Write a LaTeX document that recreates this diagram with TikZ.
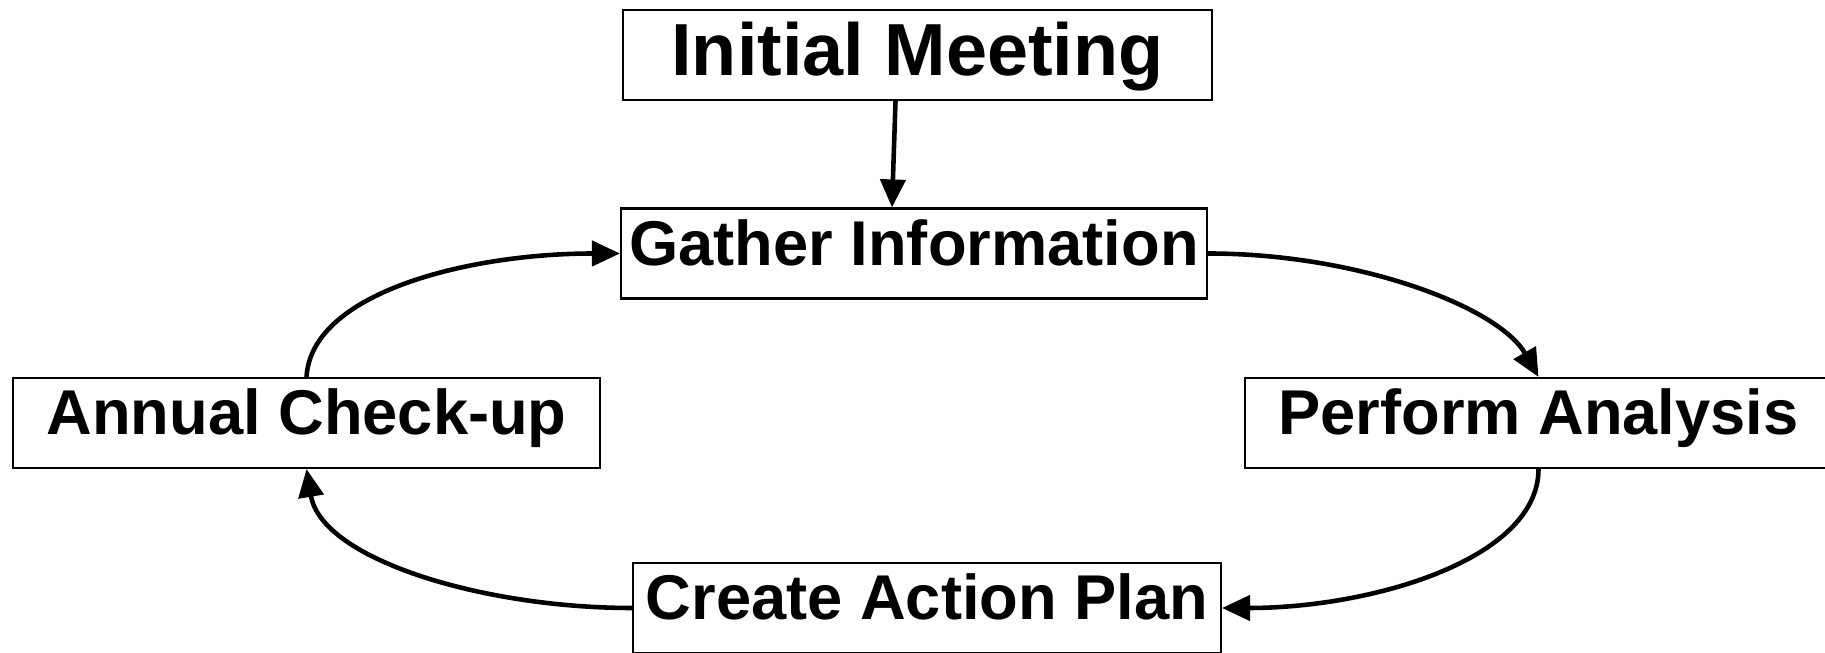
\documentclass[tikz,border=0pt]{standalone}
\usepackage{fontspec}
\setmainfont{Liberation Sans}
\usetikzlibrary{arrows.meta}

\begin{document}
\begin{tikzpicture}[
    stepbox/.style={draw, line width=0.6pt, minimum width=5.87cm, inner xsep=0pt, inner ysep=0pt,
        text height=0.57cm, text depth=0.33cm, font=\fontsize{18}{20}\selectfont\bfseries},
    flow/.style={line width=1.3pt, -{Triangle[length=0.28cm, width=0.25cm]}}
]
    \useasboundingbox (0,0) rectangle (18.25,6.53);

    % Draw the boxes for each step
    \node[stepbox, minimum width=5.89cm, text height=0.66cm, text depth=0.24cm,
        font=\fontsize{21}{24}\selectfont\bfseries] (meeting) at (9.175, 5.98) {Initial Meeting};
    \node[stepbox, minimum width=5.86cm] (gather) at (9.14, 3.995) {Gather Information};
    \node[stepbox] (checkup) at (3.065, 2.30) {Annual Check-up};
    \node[stepbox] (analysis) at (15.385, 2.30) {Perform Analysis};
    \node[stepbox, minimum width=5.88cm] (plan) at (9.27, 0.45) {Create Action Plan};

    % Add arrows between the steps
    \draw[flow] ([xshift=-2.2mm]meeting.south) -- ([xshift=-2.2mm]gather.north);
    \draw[flow] (gather.east) .. controls +(1.5,0) and +(-0.4,0.7) .. (analysis.north);
    \draw[flow] (analysis.south) .. controls +(0,-0.9) and +(1.5,0) .. (plan.east);
    \draw[flow] (plan.west) .. controls +(-1.5,0) and +(0.15,-0.9) .. (checkup.south);
    \draw[flow] (checkup.north) .. controls +(0.05,0.85) and +(-1.5,0) .. (gather.west);
\end{tikzpicture}
\end{document}
